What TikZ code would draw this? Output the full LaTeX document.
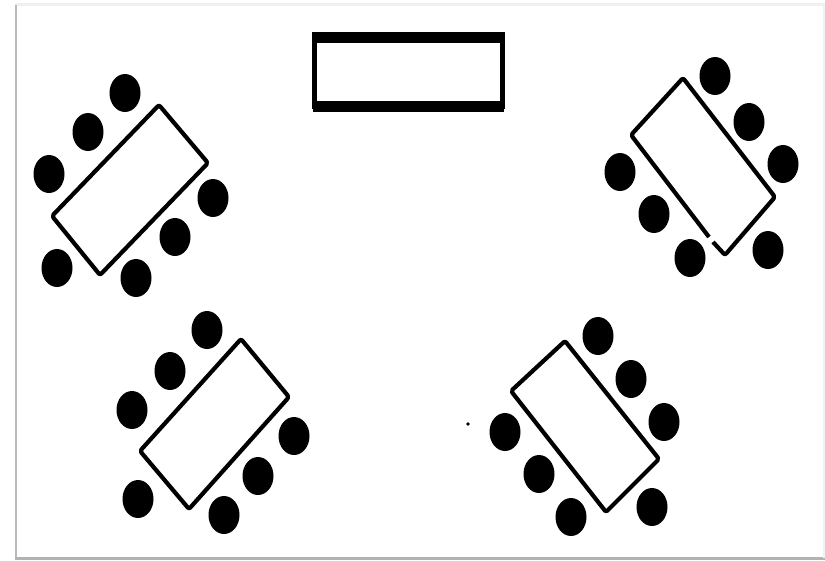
\documentclass[tikz,border=0pt]{standalone}
\tikzset{
 tbl/.style={draw=black,line width=4.2pt,rounded corners=2pt,line join=round},
 seat/.style={fill=black,draw=none},
}
\begin{document}
\begin{tikzpicture}[x=1pt,y=-1pt]
\useasboundingbox (0,0) rectangle (825,560);
\fill[white] (0,0) rectangle (825,560);
% picture frame shadow
\fill[gray!12] (15,3) rectangle (825,6);
\fill[gray!55] (14.5,5) rectangle (16.5,558);
\fill[gray!60] (15,556.5) rectangle (825,560);
\fill[gray!10] (823,5) rectangle (825,558);
% top table
\draw[black,line width=4.5pt] (314.5,36) rectangle (502.5,107);
\fill (312,32) rectangle (505,43);
\fill (313,101) rectangle (504,112);
% tables
\draw[tbl] (159,105) -- (208,163) -- (100,275) -- (52,216) -- cycle;
\draw[tbl] (709,237) -- (631,135) -- (683,78) -- (775,197) -- (725,255) -- (713,242);
\draw[tbl] (241,339) -- (289,397) -- (189,509) -- (140,451) -- cycle;
\draw[tbl] (565,341) -- (659,459) -- (606,512) -- (511,391) -- cycle;
% seats
\foreach \x/\y in {125/93,88/132,49/174,213/198,175/237,136/278,57/268,
 715/76,749/122,783/164,620/172,654/214,690/258,768/250,
 207/330,170/371,132/410,294/436,258/476,224/515,138/499,
 598/336,631/379,664/422,505/432,539/474,571/517,652/507}
 \fill[seat] (\x,\y) ellipse [x radius=15.5,y radius=19];
% speck
\fill (468,424) circle [radius=1.8];
\end{tikzpicture}
\end{document}
